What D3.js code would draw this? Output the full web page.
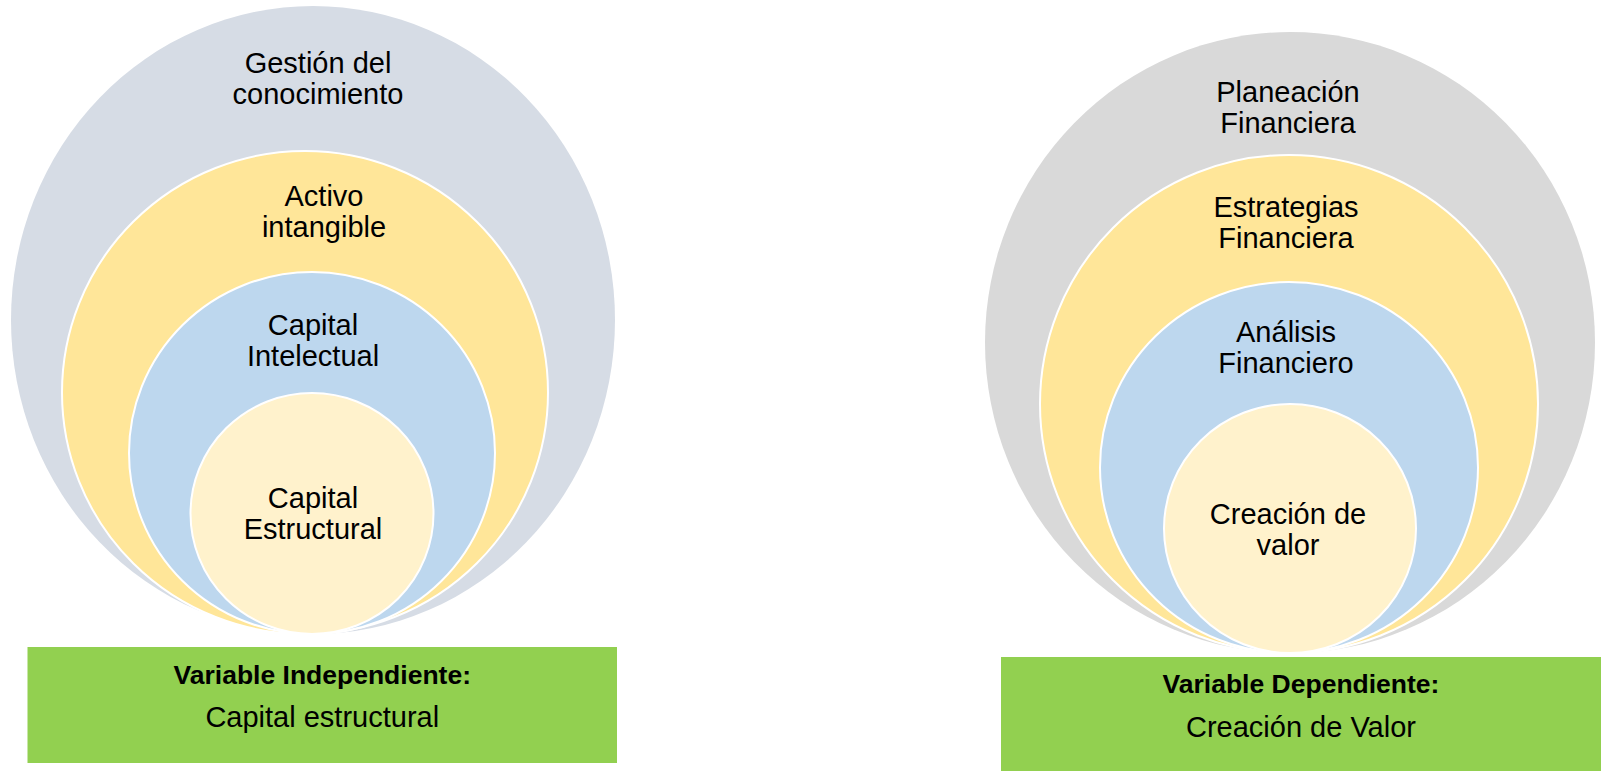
<!DOCTYPE html>
<html lang="es">
<head>
    <meta charset="UTF-8">
    <title>Variables</title>
    <script src="https://d3js.org/d3.v7.min.js"></script>
    <style>
        body {
            margin: 0;
            background-color: #fff;
        }
        svg {
            display: block;
        }
        .ring-label {
            font-family: 'Liberation Sans', Arial, sans-serif;
            font-size: 29px;
            fill: #000;
            text-anchor: middle;
        }
        .box-title {
            font-family: 'Liberation Sans', Arial, sans-serif;
            font-size: 26.5px;
            font-weight: bold;
            fill: #000;
            text-anchor: middle;
        }
        .box-value {
            font-family: 'Liberation Sans', Arial, sans-serif;
            font-size: 29px;
            fill: #000;
            text-anchor: middle;
        }
    </style>
</head>
<body>
    <svg width="1601" height="771"></svg>

    <script>
        // rings go from outside to inside
        const leftRings = [
            ["Gestión del", "conocimiento"],
            ["Activo", "intangible"],
            ["Capital", "Intelectual"],
            ["Capital", "Estructural"]
        ];
        const rightRings = [
            ["Planeación", "Financiera"],
            ["Estrategias", "Financiera"],
            ["Análisis", "Financiero"],
            ["Creación de", "valor"]
        ];
        const leftColors = ["#d6dce5", "#ffe699", "#bdd7ee", "#fff2cc"];
        const rightColors = ["#d9d9d9", "#ffe699", "#bdd7ee", "#fff2cc"];
        const boxTitles = ["Variable Independiente:", "Variable Dependiente:"];
        const boxValues = ["Capital estructural", "Creación de Valor"];

        const svg = d3.select("svg");

        // layout of each panel (pixels)
        const panels = [
            {
                rings: leftRings, colors: leftColors,
                bottom: 634,
                cx: [313, 305, 312, 312],
                rx: [302, 243, 183, 121.5],
                ry: [314, 241.5, 181, 120.5],
                labelX: [318, 324, 313, 313],
                labelDy: [67, 55, 63, 115],
                box: {x0: 27.5, x1: 617, y0: 647, y1: 763},
                title: boxTitles[0], value: boxValues[0],
                titleY: 684, valueY: 727
            },
            {
                rings: rightRings, colors: rightColors,
                bottom: 653,
                cx: [1290, 1289, 1289, 1290],
                rx: [305, 249, 189, 126],
                ry: [310.5, 249, 185.5, 124.5],
                labelX: [1288, 1286, 1286, 1288],
                labelDy: [70, 62, 60, 120],
                box: {x0: 1001, x1: 1601, y0: 657, y1: 771},
                title: boxTitles[1], value: boxValues[1],
                titleY: 693, valueY: 737
            }
        ];

        const lineHeight = 31;

        panels.forEach(p => {
            const g = svg.append("g");

            const rings = p.rings.map((lines, i) => ({
                lines: lines,
                color: p.colors[i],
                cx: p.cx[i],
                rx: p.rx[i],
                ry: p.ry[i],
                top: p.bottom - 2 * p.ry[i],
                lx: p.labelX[i],
                dy: p.labelDy[i],
                i: i
            }));

            g.selectAll("ellipse")
                .data(rings)
                .join("ellipse")
                .attr("cx", d => d.cx)
                .attr("cy", d => p.bottom - d.ry)
                .attr("rx", d => d.rx)
                .attr("ry", d => d.ry)
                .attr("fill", d => d.color)
                .attr("stroke", d => d.i === 0 ? "none" : "#fff")
                .attr("stroke-width", 2);

            const labels = g.selectAll("text.ring-label")
                .data(rings)
                .join("text")
                .attr("class", "ring-label")
                .attr("x", d => d.lx)
                .attr("y", d => d.top + d.dy);

            labels.selectAll("tspan")
                .data(d => d.lines.map((t, k) => ({t: t, k: k, x: d.lx})))
                .join("tspan")
                .attr("x", d => d.x)
                .attr("dy", d => d.k === 0 ? 0 : lineHeight)
                .text(d => d.t);

            // green box
            g.append("rect")
                .attr("x", p.box.x0)
                .attr("y", p.box.y0)
                .attr("width", p.box.x1 - p.box.x0)
                .attr("height", p.box.y1 - p.box.y0)
                .attr("fill", "#92d050");

            const mid = (p.box.x0 + p.box.x1) / 2;
            g.append("text")
                .attr("class", "box-title")
                .attr("x", mid)
                .attr("y", p.titleY)
                .text(p.title);
            g.append("text")
                .attr("class", "box-value")
                .attr("x", mid)
                .attr("y", p.valueY)
                .text(p.value);
        });
    </script>
</body>
</html>
